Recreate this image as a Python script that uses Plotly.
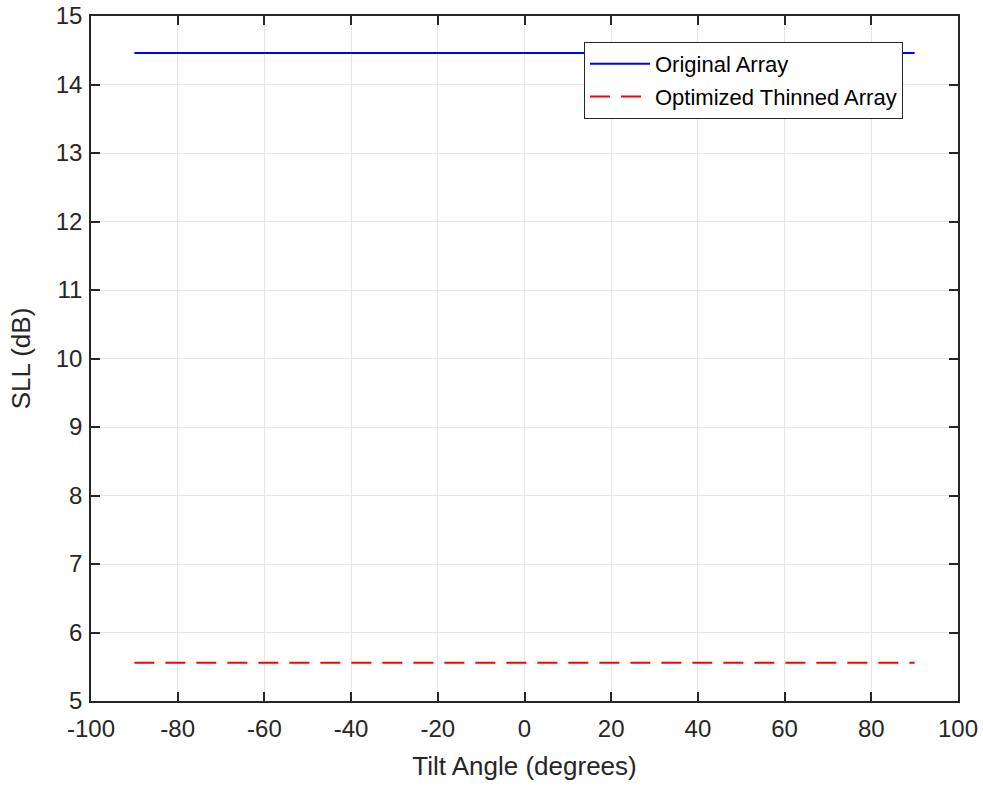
import plotly.graph_objects as go

# Tilt angles (degrees) and side-lobe levels (dB)
tilt_angle = [-90, -80, -70, -60, -50, -40, -30, -20, -10, 0,
              10, 20, 30, 40, 50, 60, 70, 80, 90]
sll_original = [14.46, 14.46, 14.46, 14.46, 14.46, 14.46, 14.46, 14.46, 14.46, 14.46,
                14.46, 14.46, 14.46, 14.46, 14.46, 14.46, 14.46, 14.46, 14.46]
sll_thinned = [5.56, 5.56, 5.56, 5.56, 5.56, 5.56, 5.56, 5.56, 5.56, 5.56,
               5.56, 5.56, 5.56, 5.56, 5.56, 5.56, 5.56, 5.56, 5.56]

x_ticks = [-100, -80, -60, -40, -20, 0, 20, 40, 60, 80, 100]
x_tick_labels = ["-100", "-80", "-60", "-40", "-20", "0", "20", "40", "60", "80", "100"]
y_ticks = [5, 6, 7, 8, 9, 10, 11, 12, 13, 14, 15]
y_tick_labels = ["5", "6", "7", "8", "9", "10", "11", "12", "13", "14", "15"]

AX = "#262626"
FONT = "Liberation Sans, Arial, sans-serif"

fig = go.Figure()
fig.add_trace(go.Scatter(x=tilt_angle, y=sll_original, mode="lines",
                         name="Original Array", legendgroup="orig",
                         line=dict(color="#0000ff", width=2)))
fig.add_trace(go.Scatter(x=tilt_angle, y=sll_thinned, mode="lines",
                         name="Optimized Thinned Array", legendgroup="thin",
                         line=dict(color="#ff0000", width=2, dash="20px,11px")))

axis_common = dict(
    showline=True, linecolor=AX, linewidth=1.5, mirror="ticks",
    ticks="inside", ticklen=9, tickwidth=1.5, tickcolor=AX,
    showgrid=True, gridcolor="#e6e6e6", gridwidth=1,
    zeroline=False, automargin=False,
    tickfont=dict(family=FONT, size=24, color=AX),
)

fig.update_layout(
    width=983, height=787,
    margin=dict(l=91, r=25, t=16, b=86, autoexpand=False),
    paper_bgcolor="white", plot_bgcolor="white",
    font=dict(family=FONT, color=AX),
    xaxis=dict(range=[-100, 100], tickvals=x_ticks, ticktext=x_tick_labels,
               ticklabelstandoff=5,
               title=dict(text="Tilt Angle (degrees)", font=dict(family=FONT, size=26, color=AX),
                          standoff=16),
               **axis_common),
    yaxis=dict(range=[5, 15], tickvals=y_ticks, ticktext=y_tick_labels,
               ticklabelstandoff=2,
               title=dict(text="SLL (dB)", font=dict(family=FONT, size=26, color=AX),
                          standoff=18),
               **axis_common),
    legend=dict(x=0.5686, y=0.962, xanchor="left", yanchor="top",
                bgcolor="white", bordercolor=AX, borderwidth=1,
                font=dict(family=FONT, size=22, color="#000000"),
                traceorder="grouped", tracegroupgap=1, itemwidth=60),
    showlegend=True,
)

fig.write_html("out.html")
